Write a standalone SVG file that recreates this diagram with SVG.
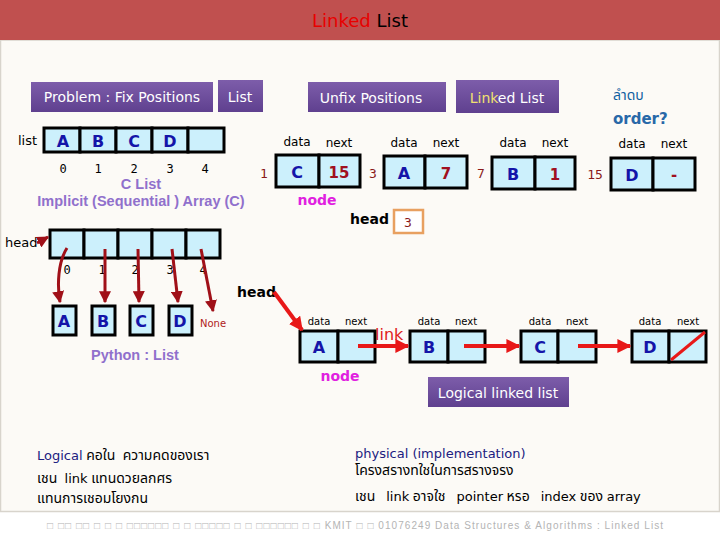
<svg xmlns="http://www.w3.org/2000/svg" width="720" height="540" viewBox="0 0 720 540">
<defs>
<linearGradient id="pg" x1="0" y1="0" x2="0" y2="1">
<stop offset="0" stop-color="#7D5DAA"/>
<stop offset="1" stop-color="#5F408F"/>
</linearGradient>
<marker id="ad" viewBox="0 0 10 10" refX="9" refY="5" markerWidth="4" markerHeight="4" orient="auto"><path d="M0,0 L10,5 L0,10 z" fill="#A01018"/></marker>
<marker id="ar" viewBox="0 0 10 10" refX="9" refY="5" markerWidth="3.5" markerHeight="3.5" orient="auto"><path d="M0,0 L10,5 L0,10 z" fill="#E81818"/></marker>
</defs>
<style>
.bg{fill:#FCFAF6}
.pbox{fill:url(#pg)}
.pt{font-family:"DejaVu Sans","Liberation Sans",sans-serif;font-size:14px;fill:#fff}
.cell{fill:#CCF0FC;stroke:#000;stroke-width:3}
.let{font-family:"DejaVu Sans","Liberation Sans",sans-serif;font-weight:bold;font-size:16px;fill:#1414A8;text-anchor:middle}
.val{font-family:"DejaVu Sans","Liberation Sans",sans-serif;font-weight:bold;font-size:15px;fill:#A01020;text-anchor:middle}
.idx{font-family:"DejaVu Sans Mono","Liberation Mono",monospace;font-size:12px;fill:#000;text-anchor:middle}
.num{font-family:"DejaVu Sans Mono","Liberation Mono",monospace;font-size:13px;fill:#8B1A1A;text-anchor:middle}
.lbl{font-family:"DejaVu Sans","Liberation Sans",sans-serif;font-size:12px;fill:#000;text-anchor:middle}
.lbls{font-family:"DejaVu Sans","Liberation Sans",sans-serif;font-size:10px;fill:#000;text-anchor:middle}
.lav{font-family:"Liberation Sans","Arial",sans-serif;font-weight:bold;font-size:14.5px;fill:#9070CC;text-anchor:middle}
.mag{font-family:"DejaVu Sans","Liberation Sans",sans-serif;font-weight:bold;font-size:14px;fill:#E020E0;text-anchor:middle}
.hd{font-family:"DejaVu Sans","Liberation Sans",sans-serif;font-weight:bold;font-size:14px;fill:#000}
.th{font-family:"Noto Sans Thai","Tahoma","Loma","Garuda","DejaVu Sans",sans-serif;font-size:14px;fill:#000}
.lat{font-family:"DejaVu Sans","Liberation Sans",sans-serif;font-size:13px}
.dk{fill:#202080}
.foot{font-family:"Liberation Sans","Arial",sans-serif;font-size:10px;fill:#B4B4B4}
.cd{stroke:#A01018;stroke-width:3;fill:none;marker-end:url(#ad)}
.cr{stroke:#E81818;stroke-width:4;fill:none;marker-end:url(#ar)}
</style>
<rect x="0" y="0" width="720" height="540" fill="#FFFFFF"/>
<rect class="bg" x="0.5" y="40" width="719" height="471.5" stroke="#D8D4CC" stroke-width="1.5"/>
<rect x="0" y="0" width="720" height="40" fill="#C0504F"/>
<text x="360" y="27" font-family="'DejaVu Sans','Liberation Sans',sans-serif" font-size="18" text-anchor="middle"><tspan fill="#E80000">Linked</tspan><tspan fill="#000"> List</tspan></text>

<g id="title-fix">
<rect class="pbox" x="31" y="82" width="182" height="30"/>
<text class="pt" x="122" y="102" text-anchor="middle" font-size="14.5">Problem : Fix Positions</text>
</g>
<g id="title-list">
<rect class="pbox" x="218" y="80" width="45" height="32"/>
<text class="pt" x="240" y="102" text-anchor="middle" font-size="16">List</text>
</g>
<g id="title-unfix">
<rect class="pbox" x="308" y="82" width="138" height="30"/>
<text class="pt" x="371" y="103" text-anchor="middle">Unfix Positions</text>
</g>
<g id="title-linked">
<rect class="pbox" x="456" y="80" width="103" height="33"/>
<text class="pt" x="507" y="103" text-anchor="middle" font-size="16"><tspan fill="#F0E070">Link</tspan>ed List</text>
</g>
<text class="th" x="613" y="100" style="fill:#1060A0" font-size="10">ลำดบ</text>
<text x="613" y="124" font-family="'DejaVu Sans','Liberation Sans',sans-serif" font-weight="bold" font-size="15" fill="#2868A8">order?</text>

<g id="c-array">
<text x="18" y="145" font-family="'DejaVu Sans','Liberation Sans',sans-serif" font-size="13" fill="#000">list</text>
<rect class="cell" x="44" y="128" width="36" height="24"/>
<rect class="cell" x="80" y="128" width="36" height="24"/>
<rect class="cell" x="116" y="128" width="36" height="24"/>
<rect class="cell" x="152" y="128" width="36" height="24"/>
<rect class="cell" x="188" y="128" width="36" height="24"/>
<text class="let" x="63" y="147">A</text>
<text class="let" x="98" y="147">B</text>
<text class="let" x="134" y="147">C</text>
<text class="let" x="170" y="147">D</text>
<text class="idx" x="63" y="173">0</text>
<text class="idx" x="98" y="173">1</text>
<text class="idx" x="134" y="173">2</text>
<text class="idx" x="170" y="173">3</text>
<text class="idx" x="205" y="173">4</text>
<text class="lav" x="141" y="189" font-weight="normal"><tspan>C </tspan><tspan font-weight="bold">List</tspan></text>
<text class="lav" x="141" y="206">Implicit (Sequential ) Array (C)</text>
</g>

<g id="pnode-C">
<text class="lbl" x="297" y="146">data</text><text class="lbl" x="339" y="147">next</text>
<rect class="cell" x="276" y="155" width="43" height="32"/>
<rect class="cell" x="319" y="155" width="41" height="32"/>
<text class="let" x="297" y="178">C</text><text class="val" x="339" y="178">15</text>
<text class="num" x="264" y="178">1</text>
</g>
<g id="pnode-A">
<text class="lbl" x="404" y="147">data</text><text class="lbl" x="446" y="147">next</text>
<rect class="cell" x="384" y="156" width="41" height="32"/>
<rect class="cell" x="425" y="156" width="42" height="32"/>
<text class="let" x="404" y="179">A</text><text class="val" x="446" y="179">7</text>
<text class="num" x="373" y="178">3</text>
</g>
<g id="pnode-B">
<text class="lbl" x="513" y="147">data</text><text class="lbl" x="555" y="147">next</text>
<rect class="cell" x="492" y="157" width="43" height="32"/>
<rect class="cell" x="535" y="157" width="40" height="32"/>
<text class="let" x="513" y="180">B</text><text class="val" x="555" y="180">1</text>
<text class="num" x="481" y="178">7</text>
</g>
<g id="pnode-D">
<text class="lbl" x="632" y="148">data</text><text class="lbl" x="674" y="148">next</text>
<rect class="cell" x="611" y="158" width="42" height="32"/>
<rect class="cell" x="653" y="158" width="42" height="32"/>
<text class="let" x="632" y="181">D</text><text class="val" x="674" y="180">-</text>
<text class="num" x="595" y="179">15</text>
</g>
<text class="mag" x="317" y="205">node</text>
<g id="head-phys">
<text class="hd" x="350" y="224">head</text>
<rect x="394" y="210" width="29" height="23" fill="#fff" stroke="#E8A060" stroke-width="2.5"/>
<text class="num" x="408" y="227">3</text>
</g>

<g id="py-array">
<text x="5" y="247" font-family="'DejaVu Sans','Liberation Sans',sans-serif" font-size="13" fill="#000">head</text>
<rect class="cell" x="50" y="230" width="34" height="28"/>
<rect class="cell" x="84" y="230" width="34" height="28"/>
<rect class="cell" x="118" y="230" width="34" height="28"/>
<rect class="cell" x="152" y="230" width="34" height="28"/>
<rect class="cell" x="186" y="230" width="34" height="28"/>
<text class="idx" x="67" y="274">0</text>
<text class="idx" x="102" y="274">1</text>
<text class="idx" x="135" y="274">2</text>
<text class="idx" x="170" y="274">3</text>
<text class="idx" x="203" y="274">4</text>
</g>
<g id="py-A"><rect class="cell" x="53" y="306" width="23" height="29"/><text class="let" x="64" y="327" font-size="14">A</text></g>
<g id="py-B"><rect class="cell" x="92" y="306" width="23" height="29"/><text class="let" x="103" y="327" font-size="14">B</text></g>
<g id="py-C"><rect class="cell" x="130" y="306" width="23" height="29"/><text class="let" x="141" y="327" font-size="14">C</text></g>
<g id="py-D"><rect class="cell" x="169" y="306" width="23" height="29"/><text class="let" x="180" y="327" font-size="14">D</text></g>
<text x="200" y="327" font-family="'DejaVu Sans','Liberation Sans',sans-serif" font-size="10" fill="#B02020">None</text>
<text class="lav" x="135" y="360">Python : List</text>

<text class="hd" x="237" y="297">head</text>
<g id="lnode-A">
<text class="lbls" x="319" y="325">data</text><text class="lbls" x="356" y="325">next</text>
<rect class="cell" x="300" y="331" width="38" height="31"/>
<rect class="cell" x="338" y="331" width="37" height="31"/>
<text class="let" x="319" y="353">A</text>
</g>
<g id="lnode-B">
<text class="lbls" x="429" y="325">data</text><text class="lbls" x="466" y="325">next</text>
<rect class="cell" x="410" y="331" width="38" height="31"/>
<rect class="cell" x="448" y="331" width="37" height="31"/>
<text class="let" x="429" y="353">B</text>
</g>
<g id="lnode-C">
<text class="lbls" x="540" y="325">data</text><text class="lbls" x="577" y="325">next</text>
<rect class="cell" x="521" y="331" width="37" height="31"/>
<rect class="cell" x="558" y="331" width="38" height="31"/>
<text class="let" x="540" y="353">C</text>
</g>
<g id="lnode-D">
<text class="lbls" x="650" y="325">data</text><text class="lbls" x="688" y="325">next</text>
<rect class="cell" x="632" y="331" width="37" height="31"/>
<rect class="cell" x="669" y="331" width="37" height="31"/>
<text class="let" x="650" y="353">D</text>
<line x1="671" y1="360" x2="705" y2="332" stroke="#E81818" stroke-width="3"/>
</g>
<text x="375" y="340" font-family="'DejaVu Sans','Liberation Sans',sans-serif" font-size="16" fill="#E02020">link</text>
<text class="mag" x="340" y="381">node</text>
<g id="logical-title">
<rect class="pbox" x="428" y="377" width="141" height="30"/>
<text class="pt" x="498" y="398" text-anchor="middle" font-size="15">Logical linked list</text>
</g>

<g id="connectors">
<path class="cd" d="M37,243 L48,237"/>
<path class="cd" d="M67,248 C58,262 57,285 60,302"/>
<path class="cd" d="M105,249 L105,302"/>
<path class="cd" d="M138,249 L139,302"/>
<path class="cd" d="M172,249 L178,302"/>
<path class="cd" d="M201,249 L213,311"/>
<path class="cr" d="M274,292 L302,330"/>
<path class="cr" d="M358,346 L408,346"/>
<path class="cr" d="M464,346 L519,346"/>
<path class="cr" d="M578,346 L630,346"/>
</g>

<text class="th" x="37" y="460" xml:space="preserve"><tspan class="lat dk">Logical</tspan> คอใน  ความคดของเรา</text>
<text class="th" x="37" y="483" xml:space="preserve">เชน  <tspan class="lat">link</tspan> แทนดวยลกศร</text>
<text class="th" x="37" y="503">แทนการเชอมโยงกน</text>
<text class="th" x="355" y="458"><tspan class="lat dk">physical (implementation)</tspan></text>
<text class="th" x="355" y="475">โครงสรางทใชในการสรางจรง</text>
<text class="th" x="355" y="501" xml:space="preserve">เชน   <tspan class="lat">link</tspan> อาจใช   <tspan class="lat">pointer</tspan> หรอ   <tspan class="lat">index</tspan> ของ <tspan class="lat">array</tspan></text>

<text class="foot" x="47" y="529" textLength="616" lengthAdjust="spacing">□ □□ □□ □ □ □ □□□□□□ □ □ □□□□□ □ □ □□□□□□ □ □ KMIT □ □ 01076249 Data Structures &amp; Algorithms : Linked List</text>
</svg>
